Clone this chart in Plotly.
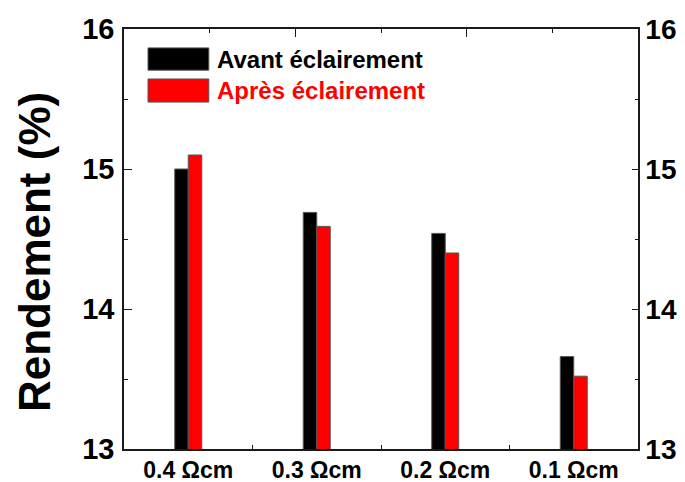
import plotly.graph_objects as go

categories = ["0.4 Ωcm", "0.3 Ωcm", "0.2 Ωcm", "0.1 Ωcm"]
avant = [15.00, 14.69, 14.54, 13.66]
apres = [15.10, 14.59, 14.40, 13.52]
series_names = ["Avant éclairement", "Après éclairement"]
series_colors = ["#000000", "#ff0000"]

FONT = "Liberation Sans, Arial, sans-serif"
AX = "#1a1a1a"

fig = go.Figure()
for name, vals, col in zip(series_names, [avant, apres], series_colors):
    fig.add_trace(go.Bar(
        x=categories, y=vals, name=name,
        marker=dict(color=col, line=dict(color="#555555", width=1)),
        showlegend=False,
    ))
# empty trace to create the mirrored (top / right) axes
fig.add_trace(go.Scatter(x=[], y=[], xaxis="x2", yaxis="y2", showlegend=False, hoverinfo="skip"))

# the page body adds an 8px margin, so the figure is sized to fit the window
fig.update_layout(
    width=677, height=474,
    margin=dict(l=116, r=47, t=21, b=33, autoexpand=False),
    paper_bgcolor="white", plot_bgcolor="white",
    barmode="group", bargap=0.79, bargroupgap=0,
    font=dict(family=FONT, color="black"),
    xaxis=dict(
        type="category", range=[-0.5, 3.5], automargin=False,
        showline=True, linecolor=AX, linewidth=1.5,
        ticks="inside", tickson="boundaries", ticklen=4, tickwidth=1.2, tickcolor=AX,
        tickfont=dict(size=23, family=FONT, weight="bold"),
        ticklabelstandoff=0,
        showgrid=False, zeroline=False,
    ),
    yaxis=dict(
        range=[13, 16], dtick=1, tick0=13, automargin=False,
        showline=True, linecolor=AX, linewidth=1.5,
        ticks="inside", ticklen=8, tickwidth=1.2, tickcolor=AX,
        minor=dict(dtick=0.5, ticks="inside", ticklen=4, tickwidth=1.2, tickcolor=AX, showgrid=False),
        tickfont=dict(size=29, family=FONT, weight="bold"),
        ticklabelstandoff=2,
        showgrid=False, zeroline=False,
    ),
    xaxis2=dict(
        overlaying="x", side="top", range=[0, 6], dtick=2, tick0=0, automargin=False,
        showline=True, linecolor=AX, linewidth=1.5,
        ticks="inside", ticklen=8, tickwidth=1.2, tickcolor=AX,
        minor=dict(dtick=1, ticks="inside", ticklen=4, tickwidth=1.2, tickcolor=AX, showgrid=False),
        showticklabels=False, showgrid=False, zeroline=False,
    ),
    yaxis2=dict(
        overlaying="y", side="right", range=[13, 16], dtick=1, tick0=13, automargin=False,
        showline=True, linecolor=AX, linewidth=1.5,
        ticks="inside", ticklen=6, tickwidth=1.2, tickcolor=AX,
        minor=dict(dtick=0.5, ticks="inside", ticklen=3, tickwidth=1.2, tickcolor=AX, showgrid=False),
        tickfont=dict(size=28, family=FONT, weight="bold"),
        ticklabelstandoff=0,
        showgrid=False, zeroline=False,
    ),
)

# y-axis title
fig.add_annotation(
    text="Rendement (%)", textangle=-90, showarrow=False,
    xref="paper", yref="paper", x=-0.175, y=0.469, xanchor="center", yanchor="middle",
    borderpad=0,
    font=dict(size=44, family=FONT, weight="bold", color="black"),
)

# custom legend with large swatches
sw_y = [(0.902, 0.955), (0.826, 0.881)]
for (y0, y1), name, col in zip(sw_y, series_names, series_colors):
    fig.add_shape(type="rect", xref="paper", yref="paper",
                  x0=0.0467, x1=0.165, y0=y0, y1=y1,
                  fillcolor=col, line=dict(color="#555555", width=1))
    fig.add_annotation(text=name, showarrow=False, xref="paper", yref="paper",
                       x=0.178, y=(y0 + y1) / 2, xanchor="left", yanchor="middle",
                       font=dict(size=24, family=FONT, weight="bold", color=col))

fig.write_html("out.html")
